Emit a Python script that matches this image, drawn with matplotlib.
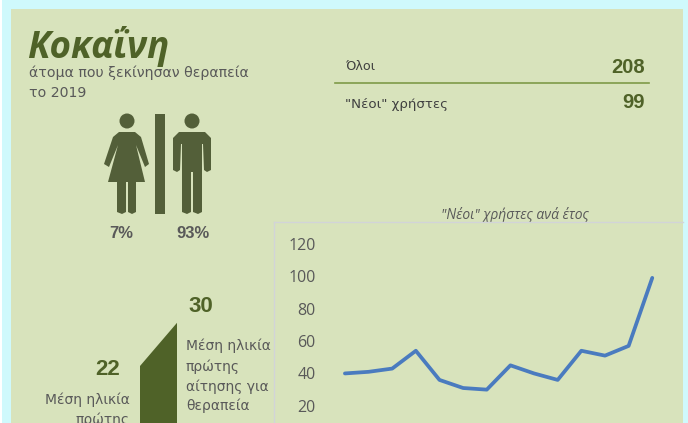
import matplotlib
matplotlib.use('Agg')
import matplotlib.pyplot as plt
from matplotlib.patches import Rectangle, Circle, Polygon

years = [2006, 2007, 2008, 2009, 2010, 2011, 2012, 2013, 2014, 2015, 2016, 2017, 2018, 2019]
new_users = [40, 41, 43, 54, 36, 31, 30, 45, 40, 36, 54, 51, 57, 99]
y_ticks = [20, 40, 60, 80, 100, 120]
ages = [22, 30]
age_labels_left = ['Μέση ηλικία', 'πρώτης']
age_labels_right = ['Μέση ηλικία', 'πρώτης', 'αίτησης για', 'θεραπεία']
table_labels = ['Όλοι', '"Νέοι" χρήστες']
table_values = [208, 99]
gender_labels = ['7%', '93%']

W, H = 688, 423
BG = '#CFF9FC'
PANEL = '#D8E3BC'
DARK = '#4F6228'
ICON = '#535F39'
GREY = '#595959'
SANS = 'Liberation Sans'
SOFT = 'Open Sans'

fig = plt.figure(figsize=(W / 100, H / 100), dpi=100, facecolor=BG)

# pixel coordinate layer for the panel, icons and text
bg = fig.add_axes([0, 0, 1, 1])
bg.set_xlim(0, W)
bg.set_ylim(H, 0)
bg.axis('off')

bg.add_patch(Rectangle((0, 0), 2, H, color='white', lw=0))
bg.add_patch(Rectangle((11, 9), 672, H - 9, color=PANEL, lw=0))

bg.text(27, 58, 'Κοκαΐνη', family=SOFT, weight='bold', style='italic', fontsize=26.5, color=DARK)
bg.text(29, 77, 'άτομα που ξεκίνησαν θεραπεία', family='DejaVu Sans', fontsize=10.2, color=GREY)
bg.text(29, 97, 'το 2019', family='DejaVu Sans', fontsize=10.2, color=GREY)

# table top right
bg.plot([335, 649], [83, 83], color='#7F9A48', lw=1.2)
bg.text(345, 70, table_labels[0], family='DejaVu Sans', fontsize=9.2, color='#404040')
bg.text(345, 108, table_labels[1], family='DejaVu Sans', fontsize=9.6, color='#404040')
bg.text(645, 73, str(table_values[0]), family=SANS, weight='bold', fontsize=14.5, color=DARK, ha='right')
bg.text(645, 108, str(table_values[1]), family=SANS, weight='bold', fontsize=14.5, color=DARK, ha='right')

# woman icon
bg.add_patch(Circle((127, 121), 7.5, color=ICON, lw=0))
bg.add_patch(Polygon([(119, 132), (135, 132), (141, 137), (149, 164), (145, 167), (136, 145),
                      (145, 182), (136, 182), (136, 212), (132, 214), (128, 212), (128, 182),
                      (126, 182), (126, 212), (122, 214), (117, 212), (117, 182), (108, 182),
                      (118, 145), (109, 167), (104, 164), (113, 137)], color=ICON, lw=0))
# divider
bg.add_patch(Rectangle((155, 114), 10, 100, color=ICON, lw=0))
# man icon
bg.add_patch(Circle((192, 121), 7.5, color=ICON, lw=0))
bg.add_patch(Polygon([(179, 132), (205, 132), (211, 138), (211, 170), (207, 172), (204, 170),
                      (203, 144), (202, 144), (202, 212), (198, 214), (193, 212), (193, 172),
                      (191, 172), (191, 212), (187, 214), (182, 212), (182, 144), (181, 144),
                      (180, 170), (177, 172), (173, 170), (173, 138)], color=ICON, lw=0))
bg.text(121, 238, gender_labels[0], family=SANS, weight='bold', fontsize=12, color=GREY, ha='center')
bg.text(193, 238, gender_labels[1], family=SANS, weight='bold', fontsize=12, color=GREY, ha='center')

# age shape, height follows the two mean ages
px_per_year = 5.4
y_first = 366
y_second = y_first - (ages[1] - ages[0]) * px_per_year
bg.add_patch(Polygon([(140, H), (140, y_first), (177, y_second), (177, H)], color=DARK, lw=0))
bg.text(108, 375, str(ages[0]), family=SANS, weight='bold', fontsize=16, color=DARK, ha='center')
bg.text(201, 312, str(ages[1]), family=SANS, weight='bold', fontsize=16, color=DARK, ha='center')
for label, y in zip(age_labels_left, [404, 424]):
    bg.text(130, y, label, family='DejaVu Sans', fontsize=10, color=GREY, ha='right', clip_on=False)
for label, y in zip(age_labels_right, [350, 371, 391, 410]):
    bg.text(186, y, label, family='DejaVu Sans', fontsize=10, color=GREY)

bg.text(515, 219, '"Νέοι" χρήστες ανά έτος', family=SOFT, style='italic', fontsize=10, color=GREY, ha='center')

# line chart, cut off by the bottom of the picture
ax = fig.add_axes([274 / W, 0, (683 - 274) / W, (H - 222) / H])
ax.patch.set_alpha(0)
ax.plot(years, new_users, color='#4A7BBF', lw=2.7, solid_capstyle='round', solid_joinstyle='round')
ax.set_xlim(2003, 2020.3)
ax.set_ylim(9.4, 133.5)
ax.set_xticks([])
ax.set_yticks(y_ticks)
ax.set_yticklabels([str(t) for t in y_ticks], family=SOFT, fontsize=11.5, color=GREY)
ax.tick_params(axis='y', length=0, pad=-30)
for s in ['right', 'bottom']:
    ax.spines[s].set_visible(False)
for s in ['left', 'top']:
    ax.spines[s].set_color('#D2D4D8')
    ax.spines[s].set_linewidth(1)

fig.savefig('out.png', dpi=100, facecolor=BG)
